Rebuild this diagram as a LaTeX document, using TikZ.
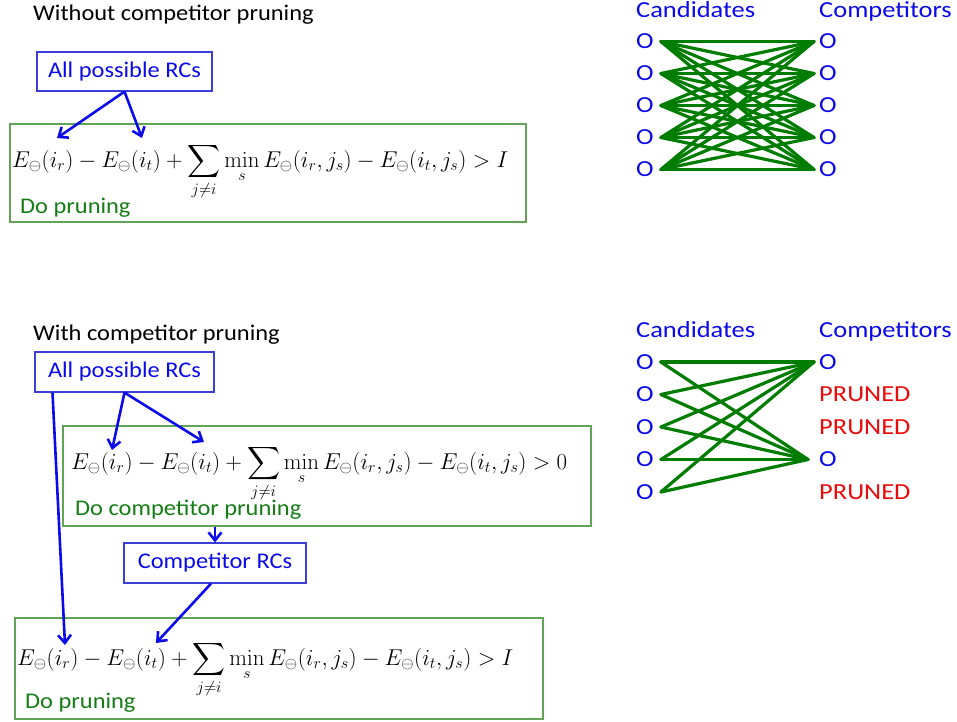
\documentclass[tikz,border=0pt]{standalone}
\usepackage[no-math]{fontspec}
\setmainfont[FakeStretch=1.09]{Carlito}
\newfontfamily\rightfont[FakeStretch=1.15]{Carlito}
\usepackage{amsmath}
\usetikzlibrary{arrows.meta}
\definecolor{tblue}{RGB}{10,10,235}
\definecolor{bblue}{RGB}{60,60,215}
\definecolor{tgreen}{RGB}{20,125,20}
\definecolor{bgreen}{RGB}{95,165,85}
\definecolor{lgreen}{RGB}{0,125,0}
\definecolor{tred}{RGB}{235,10,10}
\newcommand{\eqI}{\resizebox{496pt}{!}{$\displaystyle E_\ominus(i_r)-E_\ominus(i_t)+\sum_{j\neq i}\min_s E_\ominus(i_r,j_s)-E_\ominus(i_t,j_s)>I$}}
\newcommand{\eqZ}{\resizebox{496pt}{!}{$\displaystyle E_\ominus(i_r)-E_\ominus(i_t)+\sum_{j\neq i}\min_s E_\ominus(i_r,j_s)-E_\ominus(i_t,j_s)>0$}}
\tikzset{
  every node/.style={inner sep=0pt, font=\fontsize{22.4}{26}\selectfont},
  big/.style={font=\rightfont\fontsize{23}{27}\selectfont},
  title/.style={anchor=base west, text=black},
  rcbox/.style={draw=bblue, line width=1.2pt, text=tblue, minimum height=39pt},
  gbox/.style={draw=bgreen, line width=1.3pt},
  glabel/.style={anchor=base west, text=tgreen},
  eqn/.style={anchor=base west},
  barrow/.style={draw=tblue, line width=2.6pt, -{Straight Barb[length=8pt,width=13pt]}},
  col/.style={big, anchor=base west, text=tblue},
  cnode/.style={big, anchor=west, text=tblue},
  pruned/.style={big, anchor=west, text=tred},
  edge/.style={draw=lgreen, line width=3.2pt, line cap=round}
}
\begin{document}
\begin{tikzpicture}[x=1pt,y=-1pt]
\useasboundingbox (0,0) rectangle (957,721);
% ---------- top left ----------
\node[title] (w1) at (33,20.5) {Without competitor pruning};
\node[rcbox, minimum width=175pt] (a1) at (124.5,71.5) {All possible RCs};
\node[gbox, minimum width=516pt, minimum height=98pt] (g1) at (268,173) {};
\node[eqn] (e1) at (12,167) {\eqI};
\node[glabel] (d1) at (20,213) {Do pruning};
\coordinate (t1a) at (57,138);
\coordinate (t1b) at (142,138);
\draw[barrow] (a1.south) -- (t1a);
\draw[barrow] (a1.south) -- (t1b);
% ---------- top right ----------
\node[col] (cand1) at (636,17.5) {Candidates};
\node[col] (comp1) at (819,17.5) {Competitors};
\foreach \k in {0,...,4}{
  \node[cnode] (L\k) at (636,41.5+32*\k) {O};
  \node[cnode] (R\k) at (819,41.5+32*\k) {O};
}
\foreach \i in {0,...,4}{
  \foreach \j in {0,...,4}{
    \draw[edge] ([xshift=7pt]L\i.east) -- ([xshift=-5pt]R\j.west);
  }
}
% ---------- bottom left ----------
\node[title] (w2) at (33,340) {With competitor pruning};
\node[rcbox, minimum width=179pt, minimum height=40pt] (a2) at (124.5,372) {All possible RCs};
\node[gbox, minimum width=528pt, minimum height=100pt] (g2) at (327,476) {};
\node[eqn] (e2) at (71,469) {\eqZ};
\node[glabel] (d2) at (75,515) {Do competitor pruning};
\node[rcbox, minimum width=182pt, minimum height=40pt] (c2) at (215,563) {Competitor RCs};
\node[gbox, minimum width=528pt, minimum height=101pt] (g3) at (279,668.5) {};
\node[eqn] (e3) at (17,665) {\eqI};
\node[glabel] (d3) at (25,708) {Do pruning};
\coordinate (t2a) at (112,450);
\coordinate (t2b) at (204,442);
\coordinate (t3a) at (65,645);
\coordinate (t3b) at (156,643);
\draw[barrow] (a2.south) -- (t2a);
\draw[barrow] (a2.south) -- (t2b);
\draw[barrow] ([xshift=-72pt]a2.south) -- (t3a);
\draw[barrow] (c2.north |- g2.south) -- (c2.north);
\draw[barrow] ([xshift=-4pt]c2.south) -- (t3b);
% ---------- bottom right ----------
\node[col] (cand2) at (636,337) {Candidates};
\node[col] (comp2) at (819,337) {Competitors};
\foreach \k in {0,...,4}{
  \node[cnode] (M\k) at (636,362+32.5*\k) {O};
}
\node[cnode] (S0) at (819,362) {O};
\node[pruned] (S1) at (819,394.5) {PRUNED};
\node[pruned] (S2) at (819,427) {PRUNED};
\node[cnode] (S3) at (819,459.5) {O};
\node[pruned] (S4) at (819,492) {PRUNED};
\foreach \i in {0,...,4}{
  \draw[edge] ([xshift=7pt]M\i.east) -- ([xshift=-5pt]S0.west);
  \draw[edge] ([xshift=7pt]M\i.east) -- ([xshift=-11pt]S3.west);
}
\end{tikzpicture}
\end{document}
